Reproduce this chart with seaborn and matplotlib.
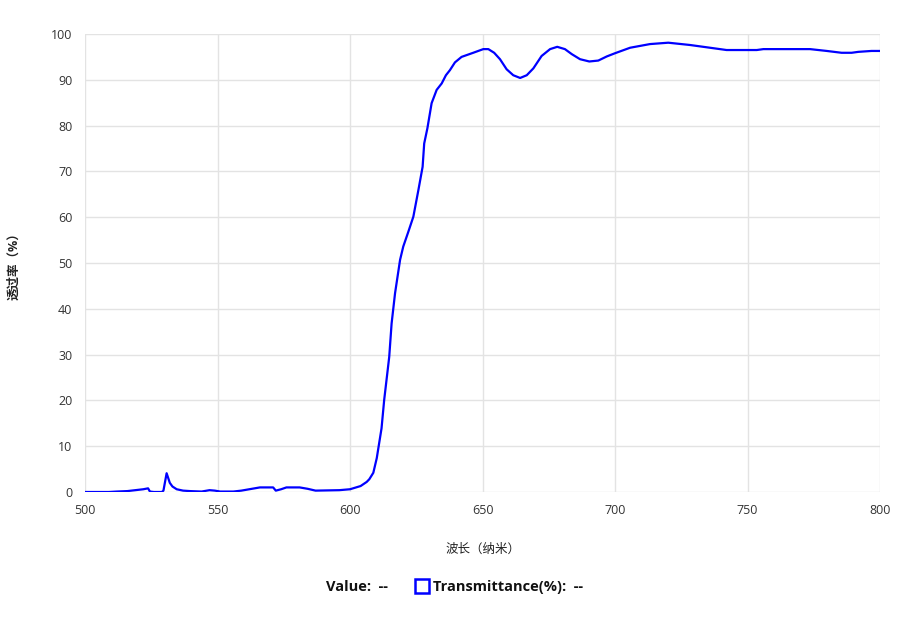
import matplotlib
matplotlib.use("Agg")
import matplotlib.pyplot as plt
import pandas as pd
import seaborn as sns
from matplotlib.lines import Line2D

# spectrum
wavelength = [
    500, 505, 509, 512, 516, 519, 522, 523.8, 524.5, 526, 529, 529.6, 530.8,
    532, 533, 534.6, 537, 539.6, 544, 547, 549, 551, 556, 559, 562, 566, 571,
    572, 574, 576, 581, 584, 587, 596, 600, 604, 606.3, 607.3, 608.8, 610.1,
    611.9, 612.9, 614.8, 615.7, 617, 618.9, 620.1, 622, 623.9, 625.8, 627.4,
    628, 629.2, 630.8, 632.7, 634.6, 636.2, 637.7, 639.6, 642.1, 646.5, 650.3,
    652.2, 654.4, 656.6, 659.1, 661.6, 664.2, 666.7, 669.2, 672.3, 675.5,
    678.2, 681.1, 683.7, 686.8, 690.3, 693.7, 696.9, 700, 705.7, 713.2, 720.1,
    728.3, 737.1, 742.1, 753.5, 756, 773.6, 779.9, 785.5, 789.3, 791.8, 796.8,
    800,
]
transmittance = [
    0, 0, 0, 0.1, 0.2, 0.4, 0.6, 0.8, 0.1, 0, 0, 0.3, 4.1,
    2.0, 1.2, 0.6, 0.3, 0.2, 0.1, 0.4, 0.3, 0.1, 0.1, 0.3, 0.6, 1.0, 1.0,
    0.3, 0.6, 1.0, 1.0, 0.7, 0.3, 0.4, 0.6, 1.3, 2.2, 2.8, 4.2, 7.4,
    13.9, 20.1, 29.5, 36.8, 43.4, 50.7, 53.6, 56.8, 60.1, 65.9, 71.0,
    76.1, 79.4, 84.9, 87.8, 89.2, 91.0, 92.1, 93.8, 95.0, 95.9, 96.7,
    96.7, 95.9, 94.5, 92.3, 91.0, 90.4, 91.0, 92.5, 95.2, 96.7,
    97.2, 96.7, 95.6, 94.5, 94.0, 94.2, 95.1, 95.8, 97.0, 97.8, 98.1,
    97.6, 96.9, 96.5, 96.5, 96.7, 96.7, 96.3, 95.9, 95.9, 96.1, 96.3,
    96.3,
]
x_ticks = [500, 550, 600, 650, 700, 750, 800]
y_ticks = list(range(0, 101, 10))

sns.set_style("white")
plt.rcParams["font.family"] = ["Open Sans", "Noto Sans CJK SC", "DejaVu Sans"]

grid_color = "#e3e3e3"
text_color = "#333333"

fig = plt.figure(figsize=(9.18, 6.26), dpi=100)
ax = fig.add_axes([85 / 918, 1 - 492 / 626, 795 / 918, 458 / 626])

df = pd.DataFrame({"wavelength": wavelength, "T": transmittance})
sns.lineplot(data=df, x="wavelength", y="T", color="#0000ff",
             linewidth=1.6, ax=ax)

ax.set_xlim(500, 800)
ax.set_ylim(0, 100)
ax.set_xticks(x_ticks)
ax.set_yticks(y_ticks)
ax.grid(True, color=grid_color, linewidth=1)
ax.set_axisbelow(True)
for s in ax.spines.values():
    s.set_visible(False)
ax.tick_params(axis="both", length=6, color=grid_color, labelsize=9,
               labelcolor=text_color, pad=3)

ax.set_xlabel("波长（纳米）", fontsize=9, color="#222222", labelpad=18)
ax.set_ylabel("透过率（%）", fontsize=9, color="#222222",
              fontweight="bold", labelpad=22)

handles = [
    Line2D([], [], linestyle="none"),
    Line2D([], [], linestyle="none", marker="s", markersize=10,
           markerfacecolor="white", markeredgecolor="#0000ff",
           markeredgewidth=1.8),
]
leg = fig.legend(handles, ["Value:  --", "Transmittance(%):  --"],
                 loc="center", bbox_to_anchor=(446 / 918, 1 - 587 / 626),
                 ncol=2, frameon=False, handlelength=0.9, handletextpad=0.3,
                 columnspacing=1.9,
                 prop={"weight": "bold", "size": 10.5})
for t in leg.get_texts():
    t.set_color("#111111")

fig.savefig("out.png", dpi=100)
